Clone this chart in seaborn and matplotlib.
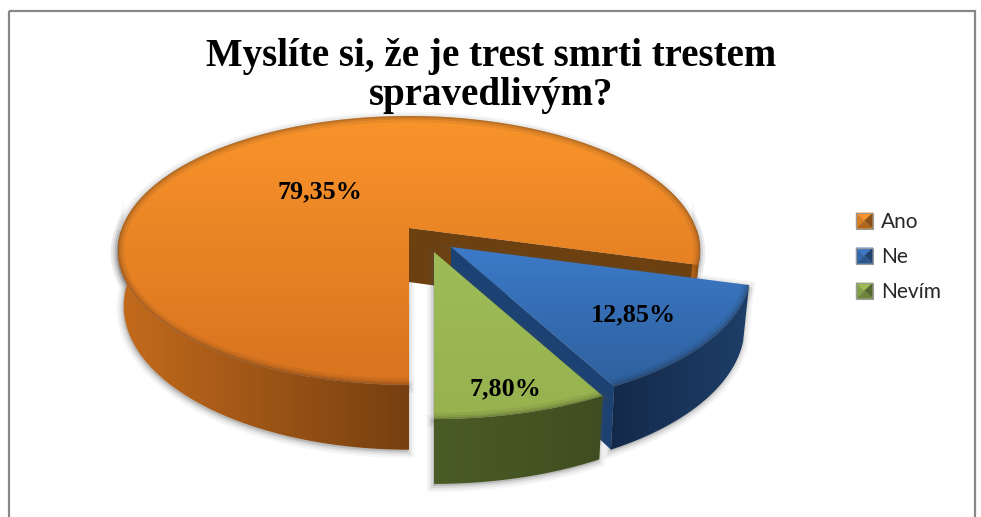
import numpy as np
import seaborn as sns
import matplotlib.pyplot as plt
from matplotlib.colors import LinearSegmentedColormap
from matplotlib.legend_handler import HandlerPatch
from matplotlib.patches import Patch, Polygon, Rectangle

# data
categories = ["Ano", "Ne", "Nevím"]
shares = [79.35, 12.85, 7.80]
title_text = "Myslíte si, že je trest smrti trestem\nspravedlivým?"

# colours per slice: top face (upper, lower), outer wall (left, right), cut wall
top_cols = [("#f9942b", "#d8731f"), ("#3c7ac8", "#2e609e"), ("#9dbc57", "#97b24e")]
wall_cols = [("#c46b1c", "#763f10"), ("#14294a", "#1e3f68"), ("#4a5c26", "#3f4e20")]
cut_cols = ["#6d4010", "#1c4273", "#4a5c26"]

# layout in pixels: apex of each slice and its scale
apex = [(409, 228), (451, 247), (434, 252)]
scale = [1.0, 1.03, 1.065]
label_pos = [(320, 192), (633, 315), (505, 389)]

# perspective of the tilted disc
A, B, K, DEPTH = 130.7, 287.0, 0.167, 54.0

sns.set_theme(style="white")
plt.rcParams["font.family"] = ["Liberation Serif", "DejaVu Sans"]

fig = plt.figure(figsize=(9.81, 5.17), dpi=100)
ax = fig.add_axes([0, 0, 1, 1])


def project(theta, i, down=False):
    u, v = np.cos(np.radians(theta)), np.sin(np.radians(theta))
    w = 1 + K * v
    k = scale[i] * (0.98 if down else 1.0)
    x = apex[i][0] + k * B * u / w
    y = apex[i][1] - scale[i] * A * v / w
    if down:
        y = y + DEPTH / w
    return x, y


def apex_down(i):
    return apex[i][0], apex[i][1] + DEPTH


def grad_fill(pts, c0, c1, horizontal=False, zorder=2):
    pts = np.asarray(pts)
    x0, x1 = pts[:, 0].min(), pts[:, 0].max()
    y0, y1 = pts[:, 1].min(), pts[:, 1].max()
    cmap = LinearSegmentedColormap.from_list("g", [c0, c1])
    g = np.linspace(0, 1, 256)
    g = g.reshape(1, -1) if horizontal else g.reshape(-1, 1)
    im = ax.imshow(g, cmap=cmap, extent=(x0, x1, y1, y0), aspect="auto",
                   vmin=0, vmax=1, zorder=zorder, interpolation="bilinear")
    clip = Polygon(pts, closed=True, transform=ax.transData)
    im.set_clip_path(clip)


def soft_shadow(pts, zorder=1):
    pts = np.asarray(pts) + [-1, 2]
    for lw, a in [(9, 0.05), (6, 0.07), (3, 0.12)]:
        ax.add_patch(Polygon(pts, closed=True, fc="#555555", ec="#555555",
                             lw=lw, alpha=a, zorder=zorder))


# slice angles, clockwise from six o'clock
cum = np.concatenate([[0], np.cumsum(shares)]) * 3.6
starts = -90 - cum[:-1]
ends = -90 - cum[1:]

z = 2
for i in range(len(shares)):
    th = np.linspace(starts[i], ends[i], 600)
    top_x, top_y = project(th, i)
    top_pts = np.vstack([[apex[i]], np.column_stack([top_x, top_y])])

    # front part of the outer wall, one piece per visible run
    front = np.sin(np.radians(th)) <= 1e-9
    runs = np.split(np.arange(len(th)), np.where(np.diff(front.astype(int)) != 0)[0] + 1)
    walls = []
    for r in runs:
        if not front[r[0]]:
            continue
        x1, y1 = project(th[r], i)
        x2, y2 = project(th[r], i, down=True)
        walls.append(np.vstack([np.column_stack([x1, y1]),
                                np.column_stack([x2, y2])[::-1]]))

    for w in walls:
        soft_shadow(w, zorder=z)
    soft_shadow(top_pts, zorder=z)
    z += 1

    # cut wall seen from the front
    end_x, end_y = project(ends[i], i)
    end_dx, end_dy = project(ends[i], i, down=True)
    cut = np.array([apex[i], (end_x, end_y), (end_dx, end_dy), apex_down(i)])
    if i < 2:
        grad_fill(cut, cut_cols[i], cut_cols[i], zorder=z)
    z += 1

    for w in walls:
        grad_fill(w, wall_cols[i][0], wall_cols[i][1], horizontal=True, zorder=z)
    z += 1

    grad_fill(top_pts, top_cols[i][0], top_cols[i][1], zorder=z)
    z += 1

    # soft bevel along the rim
    clip = Polygon(top_pts, closed=True, transform=ax.transData)
    for lw, a in [(9, 0.07), (5, 0.10), (2, 0.16)]:
        line, = ax.plot(top_x, top_y, color="#1a1a1a", lw=lw, alpha=a, zorder=z)
        line.set_clip_path(clip)
    z += 1

ax.set_xlim(0, 981)
ax.set_ylim(517, 0)
ax.axis("off")

# chart frame
ax.add_patch(Rectangle((8.5, 10.5), 966, 520, fc="none", ec="#878787", lw=1.6, zorder=1))

ax.text(491, 105, title_text, ha="center", va="baseline", multialignment="center",
        fontsize=28, fontweight="bold", color="black", linespacing=1.06, zorder=z)

for i, val in enumerate(shares):
    ax.text(label_pos[i][0], label_pos[i][1], f"{val:.2f}%".replace(".", ","),
            ha="center", va="center", fontsize=18.8, fontweight="bold",
            color="black", zorder=z)


class PyramidHandler(HandlerPatch):
    # legend key drawn as a small bevelled square
    def create_artists(self, legend, orig_handle, xdescent, ydescent,
                       width, height, fontsize, trans):
        c = orig_handle.get_facecolor()
        x0, y0 = -xdescent, -ydescent
        x1, y1 = x0 + width, y0 + height
        xm, ym = (x0 + x1) / 2, (y0 + y1) / 2
        tris = [
            ([(x0, y1), (x1, y1), (xm, ym)], 1.0),
            ([(x0, y0), (x0, y1), (xm, ym)], 0.85),
            ([(x1, y0), (x1, y1), (xm, ym)], 0.55),
            ([(x0, y0), (x1, y0), (xm, ym)], 0.7),
        ]
        out = []
        for pts, f in tris:
            col = tuple(np.array(c[:3]) * f)
            out.append(Polygon(pts, closed=True, fc=col, ec=col, lw=0.2, transform=trans))
        out.append(Rectangle((x0, y0), width, height, fc="none", ec="#9a9a9a",
                             lw=0.8, transform=trans))
        return out


handles = [Patch(facecolor=top_cols[i][0], label=categories[i]) for i in range(3)]
leg = ax.legend(handles=handles, loc="upper left", bbox_to_anchor=(856 / 981, 1 - 212 / 517),
                frameon=False, fontsize=15, prop={"family": "Lato", "size": 15},
                handlelength=0.8, handleheight=0.8, handletextpad=0.42, labelspacing=0.72,
                borderpad=0, borderaxespad=0,
                handler_map={Patch: PyramidHandler()})
leg.set_zorder(z)

fig.savefig("out.png", dpi=100)
